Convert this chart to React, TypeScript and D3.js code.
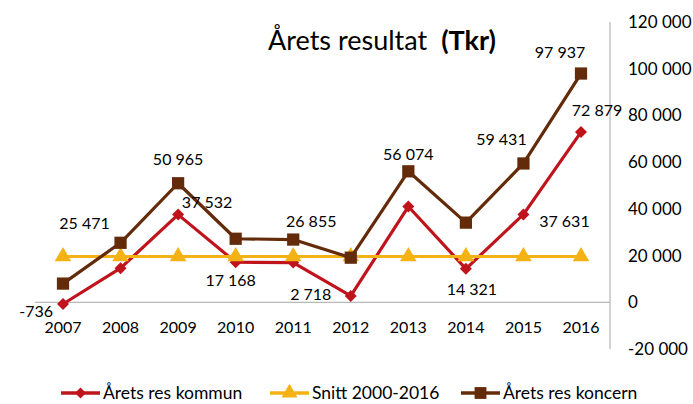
import React, { useEffect, useRef } from 'react';
import * as d3 from 'd3';

// data
const years = ['2007', '2008', '2009', '2010', '2011', '2012', '2013', '2014', '2015', '2016'];
const kommun = [-736, 14600, 37532, 17168, 17000, 2718, 41000, 14321, 37631, 72879];
const koncern = [8000, 25471, 50965, 27200, 26855, 19100, 56074, 34100, 59431, 97937];
const snitt = [19600, 19600, 19600, 19600, 19600, 19600, 19600, 19600, 19600, 19600];
const yTicks = [-20000, 0, 20000, 40000, 60000, 80000, 100000, 120000];
const seriesNames = ['Årets res kommun', 'Snitt 2000-2016', 'Årets res koncern'];

// which points get a value label and where (dx, dy from point, anchor)
const kommunLabels: ([number, number, string] | null)[] = [
  [-10, 7, 'end'], null, [29, -12, 'middle'], [-5, 18, 'middle'], null,
  [-40, -2, 'middle'], null, [6, 21, 'middle'], [41, 7, 'middle'], [16, -22, 'middle'],
];
const koncernLabels: ([number, number, string] | null)[] = [
  null, [-36, -19, 'middle'], [0, -24, 'middle'], null, [18, -18, 'middle'],
  null, [0, -17, 'middle'], null, [-22, -24, 'middle'], [-21, -21, 'middle'],
];

const RED = '#C0141C';
const YELLOW = '#F5B215';
const BROWN = '#632B09';

const App = () => {
  const ref = useRef<SVGSVGElement | null>(null);

  useEffect(() => {
    const svg = d3.select(ref.current);
    svg.selectAll('*').remove();
    const font = 'Lato, "Open Sans", sans-serif';
    const fmt = d3.formatLocale({ decimal: ',', thousands: ' ', grouping: [3], currency: ['', ''], minus: '-' }).format(',');

    const x = d3.scalePoint().domain(years).range([63, 581]);
    const y = d3.scaleLinear().domain([-20000, 120000]).range([349, 22]);

    // axes
    svg.append('line')
      .attr('x1', 35).attr('x2', 610).attr('y1', y(0)).attr('y2', y(0))
      .attr('stroke', '#A6A6A6').attr('stroke-width', 1);
    svg.append('line')
      .attr('x1', 610).attr('x2', 610).attr('y1', y(120000)).attr('y2', y(-20000))
      .attr('stroke', '#A6A6A6').attr('stroke-width', 1);

    svg.append('g').selectAll('text').data(yTicks).enter().append('text')
      .attr('x', 628).attr('y', d => y(d)).attr('dy', '0.35em')
      .style('font-family', font).style('font-size', '17px').attr('fill', '#000')
      .text(d => fmt(d));

    svg.append('g').selectAll('text').data(years).enter().append('text')
      .attr('x', d => x(d)!).attr('y', y(0) + 25).attr('dy', '0.35em').attr('text-anchor', 'middle')
      .style('font-family', font).style('font-size', '16px').attr('fill', '#000')
      .text(d => d);

    // title
    const title = svg.append('text').attr('x', 268).attr('y', 50)
      .style('font-family', font).style('font-size', '27px').attr('fill', '#000');
    title.append('tspan').text('Årets resultat');
    title.append('tspan').attr('dx', 14).style('font-weight', 'bold').text('(Tkr)');

    const line = d3.line<number>().x((d, i) => x(years[i])!).y(d => y(d));

    const drawSeries = (vals: number[], color: string, symbol: d3.SymbolType, size: number, rot: number) => {
      svg.append('path').datum(vals).attr('d', line).attr('fill', 'none')
        .attr('stroke', color).attr('stroke-width', 3.2).attr('stroke-linejoin', 'round');
      svg.append('g').selectAll('path').data(vals).enter().append('path')
        .attr('d', d3.symbol().type(symbol).size(size)())
        .attr('transform', (d, i) => `translate(${x(years[i])},${y(d)}) rotate(${rot})`)
        .attr('fill', color);
    };

    drawSeries(kommun, RED, d3.symbolSquare, 72, 45);
    drawSeries(snitt, YELLOW, d3.symbolTriangle, 120, 0);
    drawSeries(koncern, BROWN, d3.symbolSquare, 150, 0);

    const drawLabels = (vals: number[], pos: ([number, number, string] | null)[]) => {
      vals.forEach((v, i) => {
        const p = pos[i];
        if (!p) return;
        svg.append('text')
          .attr('x', x(years[i])! + p[0]).attr('y', y(v) + p[1]).attr('dy', '0.35em')
          .attr('text-anchor', p[2])
          .style('font-family', font).style('font-size', '16px').attr('fill', '#000')
          .text(fmt(v));
      });
    };
    drawLabels(kommun, kommunLabels);
    drawLabels(koncern, koncernLabels);

    // legend
    const legendX = [61, 270, 461];
    const legendColors = [RED, YELLOW, BROWN];
    const legendSym = [d3.symbolSquare, d3.symbolTriangle, d3.symbolSquare];
    const legendSize = [60, 110, 140];
    const legendRot = [45, 0, 0];
    const lg = svg.append('g').selectAll('g').data(seriesNames).enter().append('g')
      .attr('transform', (d, i) => `translate(${legendX[i]},393)`);
    lg.append('line').attr('x1', 0).attr('x2', 39).attr('y1', 0).attr('y2', 0)
      .attr('stroke', (d, i) => legendColors[i]).attr('stroke-width', 3.5);
    lg.append('path')
      .attr('d', (d, i) => d3.symbol().type(legendSym[i]).size(legendSize[i])())
      .attr('transform', (d, i) => `translate(19.5,0) rotate(${legendRot[i]})`)
      .attr('fill', (d, i) => legendColors[i]);
    lg.append('text').attr('x', 42).attr('y', 0).attr('dy', '0.35em')
      .style('font-family', font).style('font-size', '17.5px').attr('fill', '#000')
      .text(d => d);
  }, []);

  return (
    <svg ref={ref} width={693} height={404}
      style={{ position: 'absolute', left: 0, top: 0, background: '#fff' }} />
  );
};

export default App;
